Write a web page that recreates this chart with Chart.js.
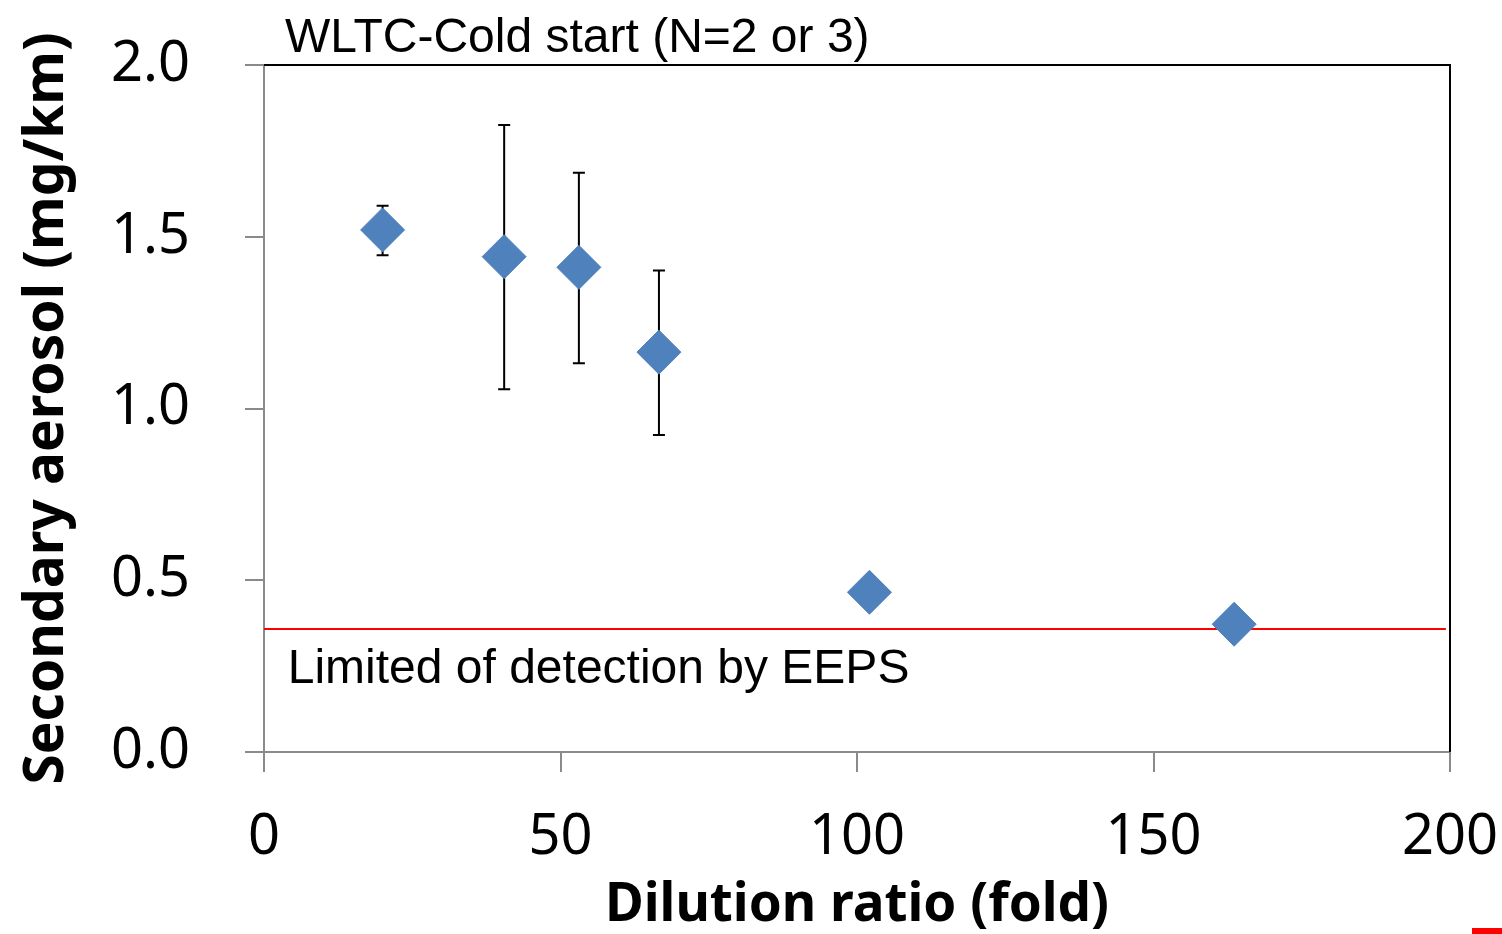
<!DOCTYPE html>
<html>
<head>
<meta charset="utf-8">
<script src="https://cdn.jsdelivr.net/npm/chart.js@4/dist/chart.umd.min.js"></script>
<style>
html,body{margin:0;padding:0;background:#fff;}
#wrap{width:1502px;height:934px;}
</style>
</head>
<body>
<div id="wrap"><canvas id="c" width="1502" height="934"></canvas></div>
<script>
// Data
const dilution = [20, 40.5, 53.1, 66.6, 102.1, 163.6];
const secondaryAerosol = [1.52, 1.442, 1.411, 1.164, 0.465, 0.372];
const errHigh = [1.590, 1.825, 1.686, 1.402, null, null];
const errLow = [1.446, 1.056, 1.132, 0.923, null, null];
const detectionLimit = 0.358;
const lodRange = [0, 199.3];
const xTicks = [0, 50, 100, 150, 200];
const yTicks = [0.0, 0.5, 1.0, 1.5, 2.0];
const titleText = 'WLTC-Cold start (N=2 or 3)';
const lodText = 'Limited of detection by EEPS';

const blue = '#4F81BD';
const axisGray = '#8a8a8a';

const scatterData = dilution.map((x, i) => ({x: x, y: secondaryAerosol[i]}));
const lodData = lodRange.map(x => ({x: x, y: detectionLimit}));

const errorBars = {
  id: 'errorBars',
  beforeDatasetsDraw(chart) {
    const xs = chart.scales.x, ys = chart.scales.y, ctx = chart.ctx;
    ctx.save();
    ctx.strokeStyle = '#000';
    ctx.lineWidth = 2;
    dilution.forEach((x, i) => {
      if (errHigh[i] == null) return;
      const px = xs.getPixelForValue(x);
      const yt = ys.getPixelForValue(errHigh[i]);
      const yb = ys.getPixelForValue(errLow[i]);
      ctx.beginPath();
      ctx.moveTo(px, yt); ctx.lineTo(px, yb);
      ctx.moveTo(px - 6, yt); ctx.lineTo(px + 6, yt);
      ctx.moveTo(px - 6, yb); ctx.lineTo(px + 6, yb);
      ctx.stroke();
    });
    ctx.restore();
  }
};

const frameAndText = {
  id: 'frameAndText',
  afterDraw(chart) {
    const a = chart.chartArea, ctx = chart.ctx;
    const xs = chart.scales.x, ys = chart.scales.y;
    ctx.save();
    ctx.strokeStyle = '#000';
    ctx.lineWidth = 2;
    ctx.beginPath();
    ctx.moveTo(a.left, a.top); ctx.lineTo(a.right, a.top); ctx.lineTo(a.right, a.bottom);
    ctx.stroke();
    ctx.fillStyle = '#000';
    ctx.font = '48px "Liberation Sans", Arial, sans-serif';
    ctx.textAlign = 'left';
    ctx.textBaseline = 'alphabetic';
    ctx.fillText(titleText, a.left + 21, a.top - 13);
    ctx.fillText(lodText, xs.getPixelForValue(4), ys.getPixelForValue(0.2));
    // small red mark at bottom-right corner of the original figure
    ctx.fillStyle = '#ff0000';
    ctx.fillRect(chart.width - 30, chart.height - 6, 30, 6);
    ctx.restore();
  }
};

new Chart(document.getElementById('c'), {
  type: 'scatter',
  data: {
    datasets: [
      {
        type: 'line',
        data: lodData,
        borderColor: '#ff0000',
        borderWidth: 2,
        pointRadius: 0,
        fill: false,
        order: 2
      },
      {
        data: scatterData,
        pointStyle: 'rectRot',
        pointRadius: 22,
        pointHoverRadius: 22,
        backgroundColor: blue,
        borderColor: blue,
        borderWidth: 1,
        order: 1
      }
    ]
  },
  options: {
    responsive: false,
    animation: false,
    events: [],
    layout: {padding: {top: 65, right: 52, left: 0, bottom: 0}},
    plugins: {legend: {display: false}, tooltip: {enabled: false}, title: {display: false}},
    scales: {
      x: {
        type: 'linear',
        min: 0, max: 200,
        afterBuildTicks(s) { s.ticks = xTicks.map(v => ({value: v})); },
        afterFit(s) { s.height = 182; s.paddingLeft = 0; s.paddingRight = 0; },
        grid: {drawOnChartArea: false, drawTicks: true, tickLength: 20, color: axisGray, lineWidth: 2},
        border: {color: axisGray, width: 2},
        ticks: {
          color: '#000', padding: 32,
          font: {family: '"Noto Sans", sans-serif', size: 56},
          callback: v => String(v)
        },
        title: {
          display: true, text: 'Dilution ratio (fold)', color: '#000',
          font: {family: '"Noto Sans", sans-serif', size: 53, weight: 'bold', lineHeight: 1.05},
          padding: {top: 0, bottom: 0}
        }
      },
      y: {
        type: 'linear',
        min: 0, max: 2,
        afterBuildTicks(s) { s.ticks = yTicks.map(v => ({value: v})); },
        afterFit(s) { s.width = 264; s.paddingTop = 0; s.paddingBottom = 0; },
        grid: {drawOnChartArea: false, drawTicks: true, tickLength: 19, color: axisGray, lineWidth: 2},
        border: {color: axisGray, width: 2},
        ticks: {
          color: '#000', padding: 55,
          font: {family: '"Noto Sans", sans-serif', size: 56},
          callback: v => Number(v).toFixed(1)
        },
        title: {
          display: true, text: 'Secondary aerosol (mg/km)', color: '#000',
          font: {family: '"Noto Sans", sans-serif', size: 55, weight: 'bold'},
          padding: {top: 14, bottom: 0}
        }
      }
    }
  },
  plugins: [errorBars, frameAndText]
});
</script>
</body>
</html>
